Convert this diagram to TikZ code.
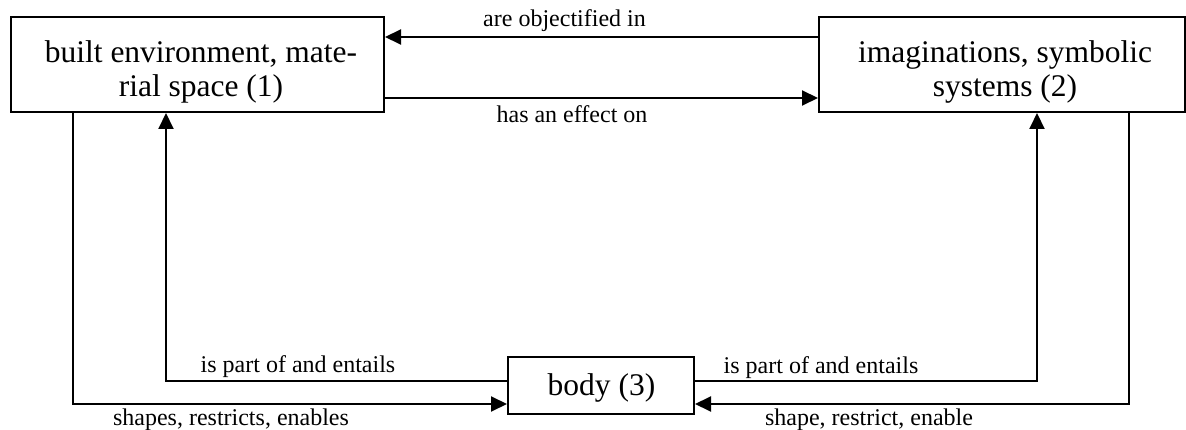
\documentclass[tikz,border=0pt]{standalone}
\usepackage{fontspec}
\setmainfont{Liberation Serif}
\usetikzlibrary{arrows.meta}
\tikzset{
  box/.style={draw, line width=2pt, rectangle, inner sep=0pt},
  boxtext/.style={align=center, inner sep=0pt, font=\fontsize{31.5}{34}\selectfont},
  lbl/.style={anchor=base, inner sep=0pt, font=\fontsize{24}{28}\selectfont},
  arr/.style={line width=2pt, -{Triangle[length=16pt,width=15pt]}}
}
\begin{document}
\begin{tikzpicture}[x=1pt,y=-1pt]
\useasboundingbox (0,0) rectangle (1186,430);

% the three boxes
\node[box, minimum width=373.3pt, minimum height=95pt] (b1) at (197.35,64.5) {};
\node[box, minimum width=366pt, minimum height=95pt] (b2) at (1002,64.5) {};
\node[box, minimum width=186pt, minimum height=57pt] (body) at (601,385.5) {};

\node[boxtext] (t1) at (201,72) {built environment, mate-\\rial space (1)};
\node[boxtext] (t2) at (1005,72) {imaginations, symbolic\\systems (2)};
\node[lbl, font=\fontsize{31.5}{34}\selectfont] (t3) at (601.5,395) {body (3)};

% connectors between (1) and (2)
\draw[arr] ([yshift=27.5pt]b2.west) -- ([yshift=27.5pt]b1.east);
\draw[arr] ([yshift=-33.5pt]b1.east) -- ([yshift=-33.5pt]b2.west);

% connectors to and from the body
\draw[arr] ([xshift=-124.35pt]b1.south) |- ([yshift=-18.5pt]body.west);
\draw[arr] ([yshift=4.5pt]body.west) -| ([xshift=-31.35pt]b1.south);
\draw[arr] ([yshift=4.5pt]body.east) -| ([xshift=35pt]b2.south);
\draw[arr] ([xshift=127pt]b2.south) |- ([yshift=-18.5pt]body.east);

% connector labels
\node[lbl] (l1) at (564.5,27) {are objectified in};
\node[lbl] (l2) at (572,123) {has an effect on};
\node[lbl] (l3) at (298,372) {is part of and entails};
\node[lbl] (l4) at (821,373) {is part of and entails};
\node[lbl] (l5) at (231,425) {shapes, restricts, enables};
\node[lbl] (l6) at (869,425) {shape, restrict, enable};
\end{tikzpicture}
\end{document}
